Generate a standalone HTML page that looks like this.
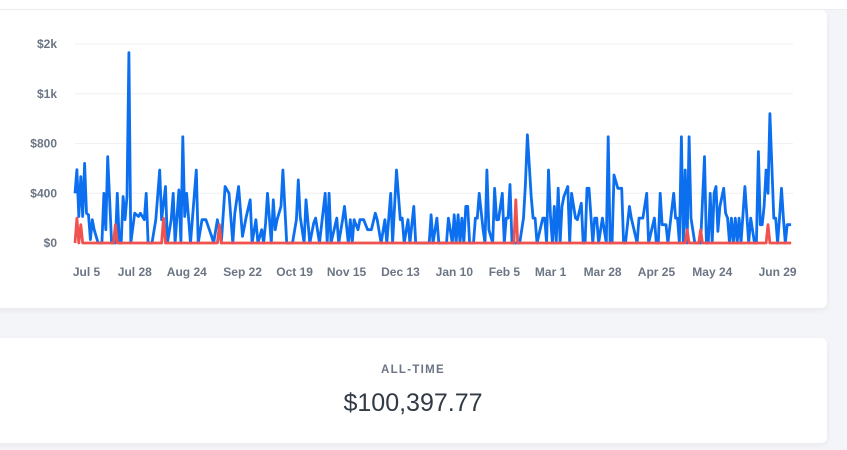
<!DOCTYPE html>
<html><head><meta charset="utf-8"><style>
html,body{margin:0;padding:0;background:#f4f5f8;width:847px;height:450px;overflow:hidden;font-family:"Liberation Sans",sans-serif}
.top{position:absolute;left:0;top:0;width:847px;height:9px;background:#fff;border-bottom:1px solid #eceef1}
.card{position:absolute;left:-10px;width:837px;background:#fff;border-radius:6px;box-shadow:0 2px 6px rgba(30,40,60,0.06)}
#c1{top:10px;height:298px}
#c2{top:338px;height:105px}
.lbl{position:absolute;left:0;width:826px;text-align:center}
</style></head><body>
<div class="top"></div>
<div class="card" id="c1"></div>
<svg id="chart" width="847" height="310" style="position:absolute;left:0;top:0"></svg>
<div class="card" id="c2"></div>
<div class="lbl" style="top:364px;font-size:11.5px;font-weight:bold;letter-spacing:1.3px;color:#6b7584">ALL-TIME</div>
<div class="lbl" style="top:389px;font-size:25px;color:#323a45">$100,397.77</div>
<script>
const yTicks=[0,400,800,1200,1600];
const yTickLabels=["$0","$400","$800","$1k","$2k"];
const xTickDays=[0,23,50,79,106,133,161,189,215,239,266,294,323,359];
const xTickLabels=["Jul 5","Jul 28","Aug 24","Sep 22","Oct 19","Nov 15","Dec 13","Jan 10","Feb 5","Mar 1","Mar 28","Apr 25","May 24","Jun 29"];
const blueDays=[-6,-5,-4,-3,-2,-1,0,1,2,3,4,6,8,9,10,11,13,15,16,17,18,19,20,21,22,23,25,27,28,30,31,32,34,36,38,39,41,42,44,45,46,48,49,50,51,52,54,57,58,60,62,65,66,68,70,72,74,76,77,79,81,83,85,86,88,89,91,92,93,94,96,97,98,99,101,102,104,107,109,110,111,113,114,116,118,119,121,124,125,126,127,130,131,133,134,136,137,138,139,141,142,144,146,148,150,151,153,155,156,158,159,161,163,164,165,167,168,170,171,178,179,180,182,183,187,188,190,191,192,193,194,195,196,197,198,199,201,202,203,204,206,207,208,209,211,212,213,214,216,217,218,219,220,221,222,223,225,227,228,229,231,232,233,234,237,238,239,240,241,242,243,244,245,246,247,248,250,251,252,254,255,257,258,259,260,261,263,264,265,266,268,270,271,272,273,274,276,278,279,280,282,283,286,287,289,291,292,295,296,297,298,299,301,302,305,306,307,308,309,310,311,312,313,314,316,318,319,321,322,323,324,325,326,327,328,329,331,332,333,334,335,336,337,338,339,340,342,344,345,347,348,349,350,351,352,353,354,355,357,358,359,360,361,362,363,364,366];
const blueValues=[400,590,213,534,213,640,240,227,27,187,107,0,0,400,107,694,0,0,400,0,0,374,187,374,1530,0,240,213,240,187,400,0,0,187,587,187,454,0,187,400,0,427,0,854,213,400,0,587,0,187,187,53,0,187,0,454,400,0,240,454,53,213,347,0,187,0,107,0,160,400,0,347,107,187,294,587,0,0,187,507,213,0,347,0,160,200,0,400,0,400,0,200,0,187,294,0,187,0,187,107,187,187,107,107,240,187,0,187,0,400,0,587,187,200,0,187,0,294,0,0,227,0,200,0,0,200,0,227,0,227,0,200,0,294,294,0,0,200,200,400,107,0,587,107,0,440,187,187,400,0,200,200,470,0,0,0,0,200,470,870,374,200,200,0,200,200,0,587,213,0,294,0,440,0,294,374,454,0,400,200,187,320,0,0,440,440,0,200,200,0,200,0,854,0,0,547,440,440,0,0,294,200,0,200,200,400,0,200,0,0,400,147,147,0,400,200,200,0,854,0,587,0,854,200,0,0,0,694,0,0,400,0,400,454,94,294,440,240,200,0,200,0,200,0,200,0,454,0,200,0,0,734,147,147,294,587,400,1040,200,200,0,200,440,200,0,147,147,200,400,0];
const redDays=[-6,-5,-4,-3,-2,14,15,16,39,40,41,68,69,70,222,223,224,311,312,313,318,319,320,353,354,355,366];
const redValues=[0,200,0,147,0,0,147,0,0,200,0,0,147,0,0,347,0,0,107,0,0,107,0,0,147,0,0];
const svg=document.getElementById('chart');
const NS='http://www.w3.org/2000/svg';
const X0=75,X1=793,Y0=243,Y1=44;
const dMin=-6,dMax=367;
const xs=d=>X0+(d-dMin)/(dMax-dMin)*(X1-X0);
const ys=v=>Y0-v/1600*(Y0-Y1);
function mk(t,a){const e=document.createElementNS(NS,t);for(const k in a)e.setAttribute(k,a[k]);svg.appendChild(e);return e;}
yTicks.forEach((v,i)=>{
  const g=mk('line',{x1:X0,x2:X1,y1:ys(v),y2:ys(v),stroke:'#f1f2f4','stroke-width':1.2});
  
  
  const t=mk('text',{x:57,y:ys(v)+4,'text-anchor':'end','font-size':12,'font-weight':'bold',fill:'#6b7584','font-family':'Liberation Sans, sans-serif'});
  t.textContent=yTickLabels[i];
  
  
});
xTickDays.forEach((d,i)=>{
  const t=mk('text',{x:xs(d)+(i>0&&i<xTickDays.length-1?4:0),y:276,'text-anchor':'middle','font-size':12,'font-weight':'bold',fill:'#6b7584','font-family':'Liberation Sans, sans-serif'});
  t.textContent=xTickLabels[i];
  
  
});
function series(days,vals,color,name){
  const p=days.map((d,i)=>(i?'L':'M')+xs(d).toFixed(1)+','+ys(vals[i]).toFixed(1)).join('');
  const e=mk('path',{d:p,fill:'none',stroke:color,'stroke-width':2.8,'stroke-linejoin':'round'});
  
  
}
series(blueDays,blueValues,'#0b6ff0','revenue-line');
series(redDays,redValues,'#f0524f','refunds-line');
</script>
</body></html>
